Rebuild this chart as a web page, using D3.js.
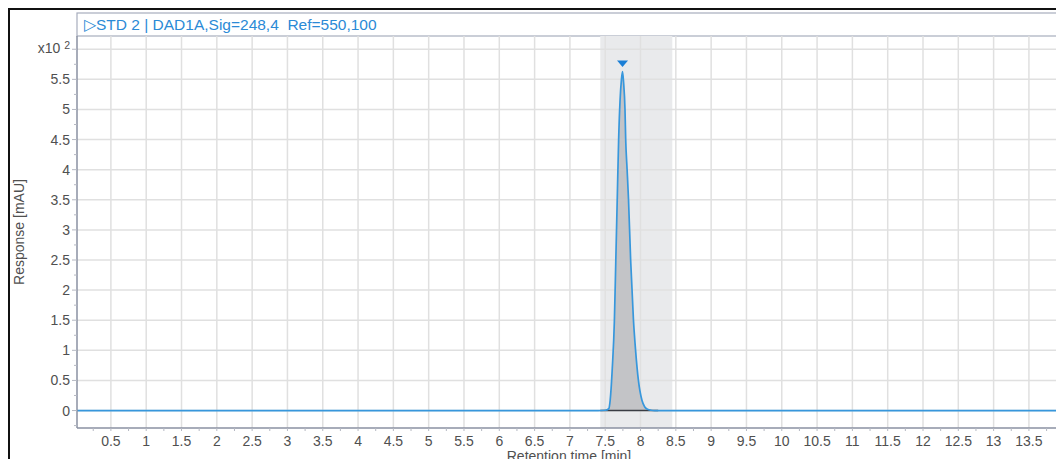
<!DOCTYPE html>
<html lang="en">
<head>
<meta charset="utf-8">
<title>STD 2 chromatogram</title>
<script src="https://cdn.jsdelivr.net/npm/d3@7"></script>
<style>
  body { margin: 0; background: #fff; }
  svg text { font-family: "Liberation Sans", Arial, sans-serif; }
</style>
</head>
<body>
<div id="chart"></div>
<script>
// signal trace (time in min, response in mAU x10^2)
var peakTimes  = [0.02, 7.40, 7.50, 7.55, 7.57, 7.60, 7.63, 7.65, 7.67, 7.69, 7.71, 7.73, 7.745,
                  7.76, 7.78, 7.79, 7.81, 7.83, 7.86, 7.90, 7.93, 7.97, 8.02, 8.06, 8.10, 8.15, 8.20, 13.9];
var peakValues = [0, 0, 0.005, 0.03, 0.17, 0.7, 1.5, 2.5, 3.5, 4.5, 5.15, 5.5, 5.63,
                  5.45, 5.0, 4.5, 4.0, 3.5, 2.5, 1.5, 1.0, 0.5, 0.17, 0.06, 0.02, 0.005, 0, 0];
var peakApex = { t: 7.745, v: 5.63 };
var peakWindow = [7.43, 8.45];   // integration window (shaded)
var baselineSeg = [7.43, 8.25];  // drawn baseline
var xTicks = d3.range(0.5, 13.51, 0.5);
var yTicks = d3.range(0, 5.51, 0.5);
var titleText = "\u25B7STD 2 | DAD1A,Sig=248,4  Ref=550,100";

var W = 1056, H = 459;
var pL = 77, pT = 36, pB = 428;

var svg = d3.select("#chart").append("svg").attr("width", W).attr("height", H);

var x = d3.scaleLinear().domain([0.02, 13.94]).range([pL, 1060]);
var y = d3.scaleLinear().domain([-0.29, 6.22]).range([pB, pT]);

// outer frame
svg.append("path").attr("d", "M9," + H + "V9H" + W)
  .attr("fill", "none").attr("stroke", "#111").attr("stroke-width", 2);

// title bar
svg.append("rect").attr("x", pL).attr("y", 13).attr("width", W).attr("height", 23)
  .attr("fill", "#fff").attr("stroke", "#a7adbd").attr("stroke-width", 1.2);
svg.append("text").attr("x", 84).attr("y", 30).attr("fill", "#2b8ad6")
  .style("font-size", "15.5px").style("white-space", "pre").text(titleText);

// shaded peak window
svg.append("rect").attr("x", x(peakWindow[0])).attr("y", pT)
  .attr("width", x(peakWindow[1]) - x(peakWindow[0])).attr("height", pB - pT)
  .attr("fill", "#e9eaec");

// grid
var grid = svg.append("g").attr("stroke", "#e0e0e0").attr("stroke-width", 1.5);
grid.selectAll(".gx").data(xTicks).enter().append("line")
  .attr("x1", d => x(d)).attr("x2", d => x(d)).attr("y1", pT).attr("y2", pB);
grid.selectAll(".gy").data(yTicks.concat([6])).enter().append("line")
  .attr("y1", d => y(d)).attr("y2", d => y(d)).attr("x1", pL).attr("x2", W);

// peak fill
var area = d3.area().x((d, i) => x(peakTimes[i])).y0(y(0)).y1((d, i) => y(peakValues[i]))
  .curve(d3.curveMonotoneX);
svg.append("path").datum(peakValues).attr("d", area).attr("fill", "#c3c4c7");

// baseline
svg.append("line").attr("x1", x(baselineSeg[0])).attr("x2", x(baselineSeg[1]))
  .attr("y1", y(0)).attr("y2", y(0)).attr("stroke", "#3a3d44").attr("stroke-width", 1.5);

// signal
var line = d3.line().x((d, i) => x(peakTimes[i])).y((d, i) => y(d)).curve(d3.curveMonotoneX);
svg.append("path").datum(peakValues).attr("d", line)
  .attr("fill", "none").attr("stroke", "#3797dc").attr("stroke-width", 1.7);

// apex marker
var ax = x(peakApex.t), ay = y(peakApex.v) - 8;
svg.append("path").attr("d", "M" + (ax - 5.5) + "," + (ay - 3) + "H" + (ax + 5.5) + "L" + ax + "," + (ay + 3.5) + "Z")
  .attr("fill", "#1b7fd6");

// axes
var axisColor = "#8a90a2";
svg.append("line").attr("x1", pL).attr("x2", pL).attr("y1", pT).attr("y2", pB)
  .attr("stroke", axisColor).attr("stroke-width", 1.5);
svg.append("line").attr("x1", pL).attr("x2", W).attr("y1", pB).attr("y2", pB)
  .attr("stroke", axisColor).attr("stroke-width", 1.5);

var xMinor = d3.range(0.25, 13.9, 0.25);
svg.selectAll(".tx").data(xMinor).enter().append("line")
  .attr("x1", d => x(d)).attr("x2", d => x(d)).attr("y1", pB).attr("y2", pB + 3)
  .attr("stroke", "#b5b8c2").attr("stroke-width", 1);
var yMinor = d3.range(-0.25, 6.1, 0.25);
svg.selectAll(".ty").data(yMinor).enter().append("line")
  .attr("y1", d => y(d)).attr("y2", d => y(d)).attr("x1", pL)
  .attr("x2", d => pL - (Math.abs(d * 2 - Math.round(d * 2)) < 0.01 ? 5 : 3))
  .attr("stroke", "#b5b8c2").attr("stroke-width", 1);

var fmt = d => String(d);
svg.selectAll(".lx").data(xTicks).enter().append("text")
  .attr("x", d => x(d)).attr("y", 446).attr("text-anchor", "middle")
  .attr("fill", "#505050").style("font-size", "14px").text(fmt);
svg.selectAll(".ly").data(yTicks).enter().append("text")
  .attr("x", 70).attr("y", d => y(d) + 5).attr("text-anchor", "end")
  .attr("fill", "#505050").style("font-size", "14px").text(fmt);

// exponent label
var ex = svg.append("text").attr("x", 70).attr("y", y(6) + 4).attr("text-anchor", "end")
  .attr("fill", "#505050").style("font-size", "14px");
ex.append("tspan").text("x10 ");
ex.append("tspan").attr("dy", -4).style("font-size", "10.5px").text("2");

// axis titles
svg.append("text").attr("transform", "translate(24,232) rotate(-90)")
  .attr("text-anchor", "middle").attr("fill", "#505050").style("font-size", "14px").text("Response [mAU]");
svg.append("text").attr("x", 569).attr("y", 461).attr("text-anchor", "middle")
  .attr("fill", "#505050").style("font-size", "14px").text("Retention time [min]");
</script>
</body>
</html>
